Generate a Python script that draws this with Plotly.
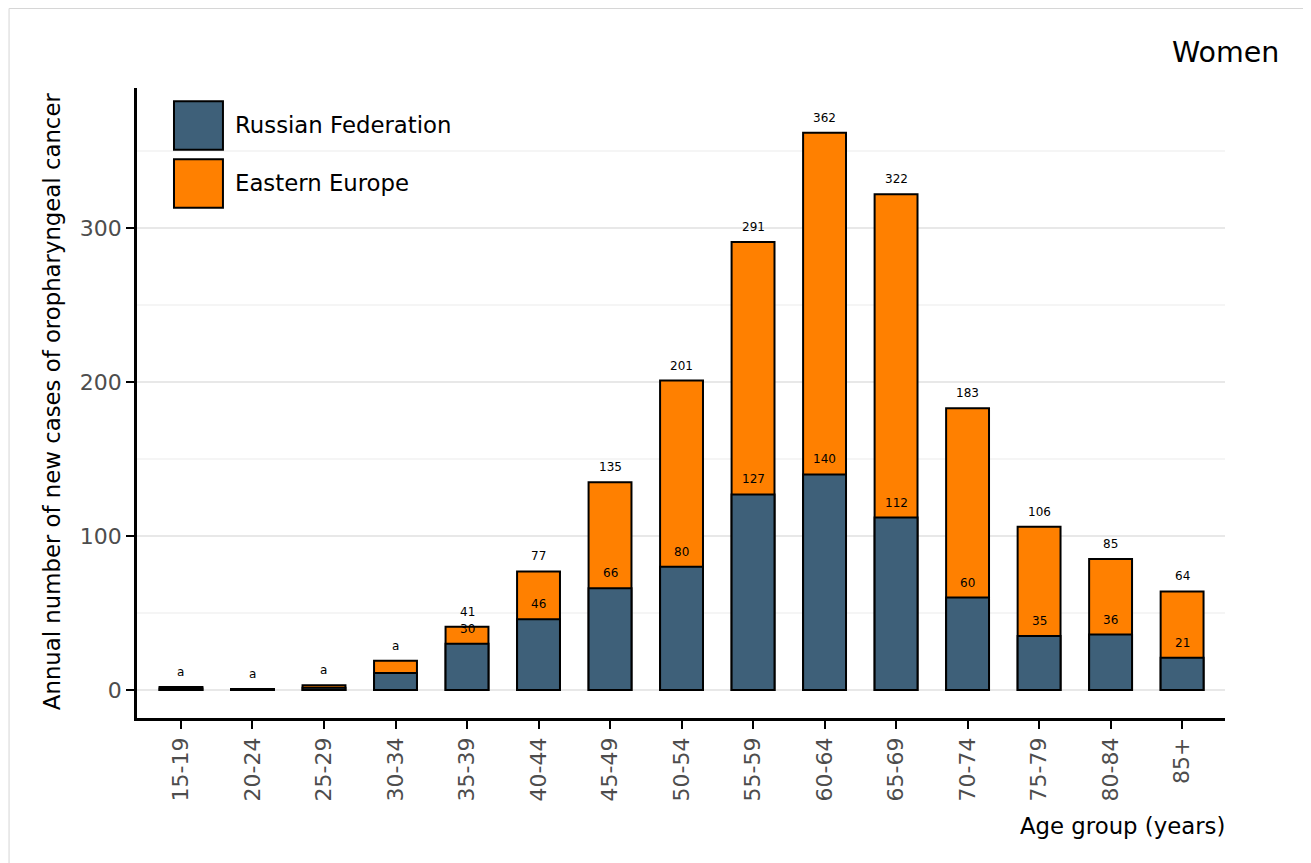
import plotly.graph_objects as go

age_groups = ["15-19", "20-24", "25-29", "30-34", "35-39", "40-44", "45-49", "50-54",
              "55-59", "60-64", "65-69", "70-74", "75-79", "80-84", "85+"]
russia = [1, 0.4, 1.5, 11, 30, 46, 66, 80, 127, 140, 112, 60, 35, 36, 21]
eastern_europe = [2, 0.6, 3, 19, 41, 77, 135, 201, 291, 362, 322, 183, 106, 85, 64]
total_labels = ["a", "a", "a", "a", "41", "77", "135", "201", "291", "362", "322", "183", "106", "85", "64"]
russia_labels = ["", "", "", "", "30", "46", "66", "80", "127", "140", "112", "60", "35", "36", "21"]
y_ticks = [0, 100, 200, 300]

C_RUS = "#3E6079"
C_EE = "#FF8000"
FONT = "DejaVu Sans"

fig = go.Figure()
fig.add_trace(go.Bar(x=age_groups, y=eastern_europe, name="Eastern Europe", width=0.6,
                     marker=dict(color=C_EE, line=dict(color="black", width=2)), opacity=1))
fig.add_trace(go.Bar(x=age_groups, y=russia, name="Russian Federation", width=0.6,
                     marker=dict(color=C_RUS, line=dict(color="black", width=2)), opacity=1))

annotations = []
for cat, v, lab in zip(age_groups, eastern_europe, total_labels):
    if lab:
        annotations.append(dict(x=cat, y=v, xref="x", yref="y", text=lab, showarrow=False,
                                yshift=15, font=dict(family=FONT, size=12, color="black")))
for cat, v, lab in zip(age_groups, russia, russia_labels):
    if lab:
        annotations.append(dict(x=cat, y=v, xref="x", yref="y", text=lab, showarrow=False,
                                yshift=15, font=dict(family=FONT, size=12, color="black")))

# axis titles & title
annotations.append(dict(x=-0.0781, y=0.503, xref="paper", yref="paper", textangle=-90,
                        text="Annual number of new cases of oropharyngeal cancer", showarrow=False,
                        xanchor="center", yanchor="middle",
                        font=dict(family=FONT, size=22.8, color="black")))
annotations.append(dict(x=1.0015, y=-0.171, xref="paper", yref="paper", text="Age group (years)",
                        showarrow=False, xanchor="right", yanchor="middle",
                        font=dict(family=FONT, size=22.8, color="black")))
annotations.append(dict(x=1.0515, y=1.057, xref="paper", yref="paper", text="Women",
                        showarrow=False, xanchor="right", yanchor="middle",
                        font=dict(family=FONT, size=28.5, color="black")))

# manual legend
legend_items = [("Russian Federation", C_RUS, 0.979, 0.902, 0.941),
                ("Eastern Europe", C_EE, 0.887, 0.810, 0.849)]
shapes = []
for name, col, y1, y0, yc in legend_items:
    shapes.append(dict(type="rect", xref="paper", yref="paper", x0=0.034, x1=0.079, y0=y0, y1=y1,
                       fillcolor=col, line=dict(color="black", width=2)))
    annotations.append(dict(x=0.088, y=yc, xref="paper", yref="paper", text=name, showarrow=False,
                            xanchor="left", yanchor="middle",
                            font=dict(family=FONT, size=22.8, color="black")))

# outer frame (extends beyond the visible area on right and bottom)
shapes.append(dict(type="rect", xref="paper", yref="paper", x0=-0.1176, x1=1.2, y0=-0.35, y1=1.1262,
                   line=dict(color="#d6d6d6", width=1), fillcolor="rgba(0,0,0,0)", layer="below"))

fig.update_layout(
    width=1303, height=855,
    margin=dict(l=129, r=86, t=80, b=145, autoexpand=False),
    barmode="overlay",
    showlegend=False,
    plot_bgcolor="white", paper_bgcolor="white",
    font=dict(family=FONT, size=22, color="#4d4d4d"),
    annotations=annotations,
    shapes=shapes,
)
fig.update_xaxes(
    type="category", range=[-0.615, 14.6], tickangle=-90,
    showline=True, linecolor="black", linewidth=2.5, mirror=False,
    ticks="outside", ticklen=8, tickwidth=2, tickcolor="black",
    tickfont=dict(family=FONT, size=22, color="#4d4d4d"),
    showgrid=False, zeroline=False,
)
fig.update_yaxes(
    range=[-18.2, 391], tickvals=y_ticks, ticktext=[str(t) for t in y_ticks],
    showline=True, linecolor="black", linewidth=2.5,
    ticks="outside", ticklen=8, tickwidth=2, tickcolor="black",
    tickfont=dict(family=FONT, size=22, color="#4d4d4d"),
    showgrid=True, gridcolor="#e8e8e8", gridwidth=2, zeroline=False,
    minor=dict(dtick=50, tick0=0, showgrid=True, gridcolor="#f5f5f5", gridwidth=2, ticks=""),
)

fig.write_html("out.html")
